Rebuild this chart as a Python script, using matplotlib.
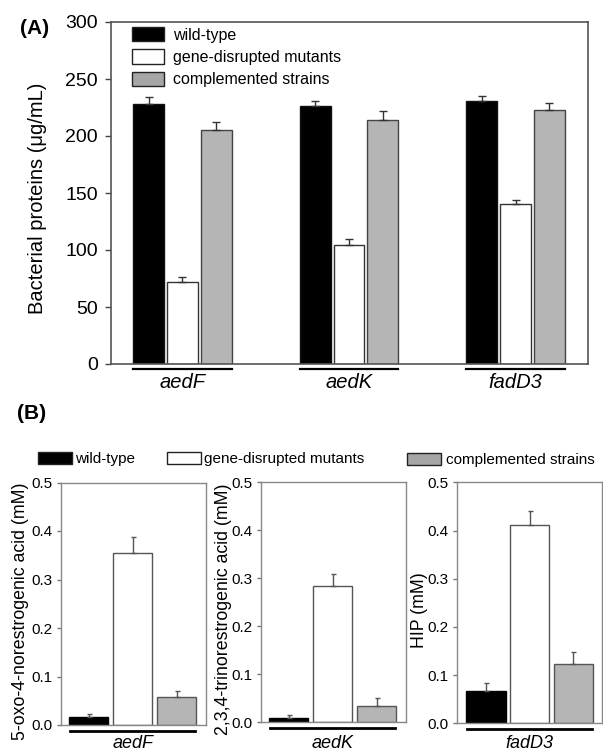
import matplotlib
matplotlib.use("Agg")
import matplotlib.pyplot as plt
import matplotlib.transforms as mtransforms
from matplotlib.patches import Patch
from matplotlib.lines import Line2D
from matplotlib.ticker import FormatStrFormatter

plt.rcParams['font.family'] = ['Liberation Sans', 'DejaVu Sans']

# ---------------- data ----------------
groups = ['aedF', 'aedK', 'fadD3']
series_names = ['wild-type', 'gene-disrupted mutants', 'complemented strains']

# Panel A: bacterial proteins (ug/mL)
a_wild = [228.5, 226.5, 231.0]
a_wild_err = [6.0, 4.0, 4.0]
a_mut = [71.5, 104.5, 140.5]
a_mut_err = [4.5, 5.5, 3.5]
a_comp = [205.0, 214.0, 222.5]
a_comp_err = [7.0, 8.0, 6.5]
a_yticks = [0, 50, 100, 150, 200, 250, 300]

# Panel B: metabolites (mM), one sub-panel per gene; order wild, mutant, complemented
b_aedF = [0.017, 0.354, 0.057]
b_aedF_err = [0.006, 0.033, 0.013]
b_aedK = [0.008, 0.283, 0.034]
b_aedK_err = [0.006, 0.026, 0.015]
b_fadD3 = [0.067, 0.411, 0.123]
b_fadD3_err = [0.016, 0.030, 0.025]
b_ylabels = ['5-oxo-4-norestrogenic acid (mM)',
             '2,3,4-trinorestrogenic acid (mM)',
             'HIP (mM)']
b_yticks = [0.0, 0.1, 0.2, 0.3, 0.4, 0.5]

# ---------------- style ----------------
fill_colors = ['#000000', '#ffffff', '#b5b5b5']
legend_fill = ['#000000', '#ffffff', '#a6a6a6']
W, H = 603, 752

def rect(left, bottom, width, height):
    return [left / W, 1 - bottom / H, width / W, height / H]

fig = plt.figure(figsize=(W / 100, H / 100), dpi=100)

# ---------------- Panel A ----------------
axA = fig.add_axes(rect(111, 364, 477, 342))
xs = list(range(len(groups)))
step = 0.2036
bw = 0.186
A_vals = [a_wild, a_mut, a_comp]
A_errs = [a_wild_err, a_mut_err, a_comp_err]
A_edges = ['#111111', '#333333', '#444444']
for k in range(3):
    pos = [x + (k - 1) * step for x in xs]
    axA.bar(pos, A_vals[k], width=bw, color=fill_colors[k],
            edgecolor=A_edges[k], linewidth=1.0, zorder=2)
    axA.errorbar(pos, A_vals[k], yerr=[[0] * 3, A_errs[k]], fmt='none',
                 ecolor='#333333', elinewidth=1.0, capsize=3.2, capthick=1.0,
                 zorder=3)
axA.set_xlim(-0.429, 2.435)
axA.set_ylim(0, 300)
axA.set_yticks(a_yticks)
axA.set_xticks([])
axA.tick_params(axis='y', direction='out', length=4.3, width=1.0,
                colors='#444444', labelcolor='black', labelsize=14, pad=5)
for s in axA.spines.values():
    s.set_color('#555555')
    s.set_linewidth(1.2)
axA.set_ylabel('Bacterial proteins (μg/mL)', fontsize=14.5)
axA.yaxis.set_label_coords(-0.134, 0.484)

transA = mtransforms.blended_transform_factory(axA.transData, axA.transAxes)
for x, g in zip(xs, groups):
    axA.add_line(Line2D([x - step - bw / 2, x + step + bw / 2], [-0.0146, -0.0146],
                        transform=transA, color='black', lw=1.6, clip_on=False))
    axA.text(x, -0.027, g, transform=transA, ha='center', va='top',
             fontsize=14.5, style='italic')

handlesA = [Patch(facecolor=legend_fill[k], edgecolor='#222222', linewidth=1.0,
                  label=series_names[k]) for k in range(3)]
axA.legend(handles=handlesA, loc='upper left', bbox_to_anchor=(0.044, 0.985),
           frameon=False, fontsize=11.5, handlelength=2.0, handleheight=1.0,
           handletextpad=0.55, labelspacing=0.42, borderpad=0, borderaxespad=0)

fig.text(20 / W, 1 - 29 / H, '(A)', fontsize=15, fontweight='bold',
         ha='left', va='center')

# ---------------- Panel B ----------------
fig.text(17 / W, 1 - 414 / H, '(B)', fontsize=15, fontweight='bold',
         ha='left', va='center')

b_vals = [b_aedF, b_aedK, b_fadD3]
b_errs = [b_aedF_err, b_aedK_err, b_fadD3_err]
b_rects = [rect(60.5, 725, 145, 242.5), rect(260.5, 722, 145, 240),
           rect(456.7, 723.3, 145, 241)]
b_bottoms = [725, 722, 723.3]
b_heights = [242.5, 240, 241]
b_xlims = [(-0.64, 2.655), (-0.64, 2.655), (-0.67, 2.645)]
b_label_x = [-0.215, -0.195, -0.195]
b_edges = ['#000000', '#555555', '#555555']

for i in range(3):
    ax = fig.add_axes(b_rects[i])
    ax.bar(xs, b_vals[i], width=0.9, color=fill_colors, edgecolor=b_edges,
           linewidth=1.0, zorder=2)
    ax.errorbar(xs, b_vals[i], yerr=[[0] * 3, b_errs[i]], fmt='none',
                ecolor='#555555', elinewidth=1.0, capsize=1.8, capthick=1.0,
                zorder=3)
    ax.set_xlim(*b_xlims[i])
    ax.set_ylim(0, 0.5)
    ax.set_yticks(b_yticks)
    ax.yaxis.set_major_formatter(FormatStrFormatter('%.1f'))
    ax.set_xticks([])
    ax.tick_params(axis='y', direction='out', length=3, width=1.0,
                   colors='#777777', labelcolor='black', labelsize=11, pad=3)
    for s in ax.spines.values():
        s.set_color('#888888')
        s.set_linewidth(1.0)
    ax.set_ylabel(b_ylabels[i], fontsize=12.8)
    ax.yaxis.set_label_coords(b_label_x[i], 0.47)
    tr = mtransforms.blended_transform_factory(ax.transData, ax.transAxes)
    ax.add_line(Line2D([-0.43, 2.42], [-0.023, -0.023], transform=tr,
                       color='black', lw=2.0, clip_on=False))
    base_frac = -(748 - b_bottoms[i]) / b_heights[i]
    ax.text(1, base_frac, groups[i], transform=tr, ha='center', va='baseline',
            fontsize=13, style='italic')

legB_pos = [(38, 459), (167, 459), (407, 460)]
legB_pad = [0.25, 0.25, 0.35]
for k in range(3):
    h = Patch(facecolor=legend_fill[k], edgecolor='#222222', linewidth=1.0,
              label=series_names[k])
    fig.legend(handles=[h], loc='center left',
               bbox_to_anchor=(legB_pos[k][0] / W, 1 - legB_pos[k][1] / H),
               frameon=False, fontsize=11, handlelength=2.2, handleheight=0.85,
               handletextpad=legB_pad[k], borderpad=0, borderaxespad=0)

fig.savefig('out.png', dpi=100)
